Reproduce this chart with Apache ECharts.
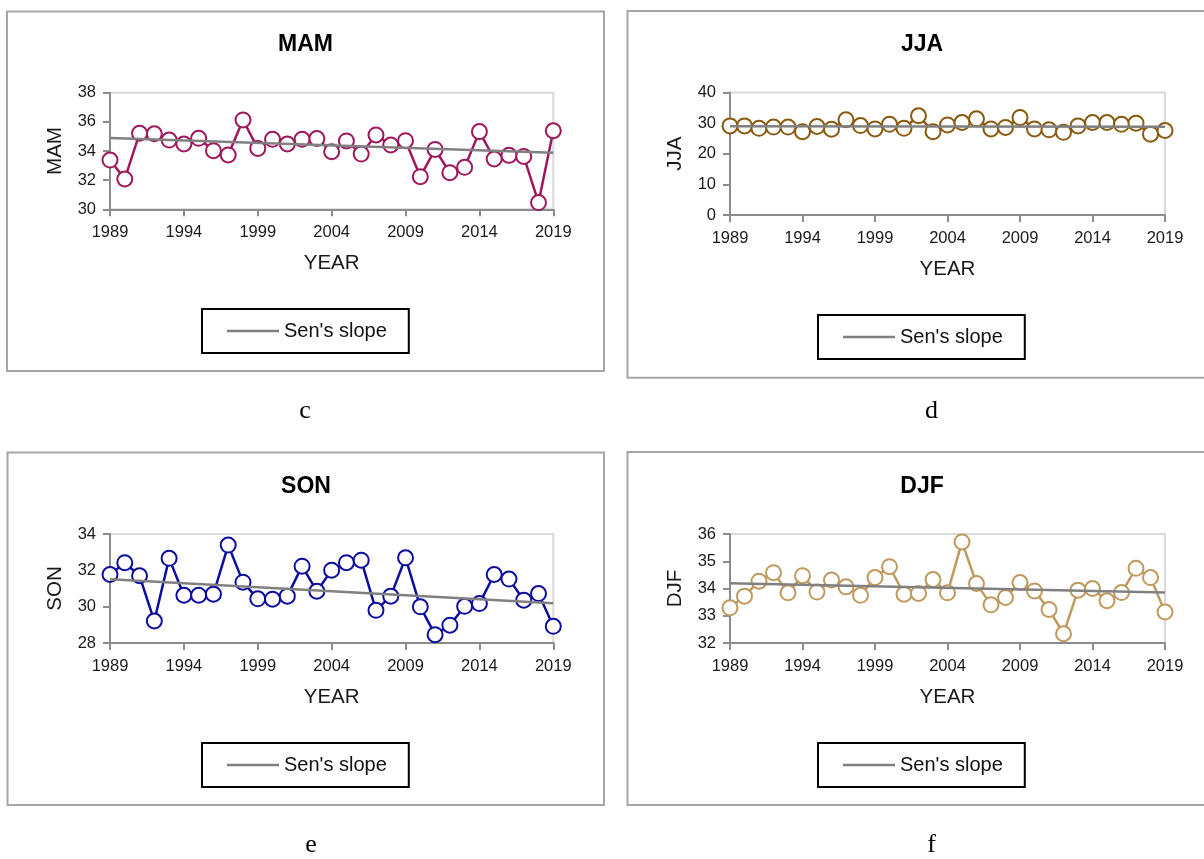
<!DOCTYPE html>
<html>
<head>
<meta charset="utf-8">
<script src="https://cdn.jsdelivr.net/npm/echarts@6/dist/echarts.min.js"></script>
<style>
html,body{margin:0;padding:0;background:#fff;}
#chart{width:1204px;height:859px;}
</style>
</head>
<body>
<div id="chart"></div>
<script>
const years = [1989,1990,1991,1992,1993,1994,1995,1996,1997,1998,1999,2000,2001,2002,2003,2004,2005,2006,2007,2008,2009,2010,2011,2012,2013,2014,2015,2016,2017,2018,2019];
const mam = [33.38,32.08,35.21,35.18,34.75,34.48,34.87,34.02,33.73,36.13,34.18,34.8,34.48,34.8,34.85,33.95,34.69,33.79,35.1,34.41,34.71,32.24,34.11,32.51,32.88,35.33,33.45,33.7,33.63,30.46,35.39];
const jja = [29.1,29.1,28.3,28.7,28.7,27.2,28.9,28.0,31.1,29.2,28.1,29.6,28.3,32.4,27.2,29.4,30.2,31.4,28.1,28.6,31.8,28.1,27.8,27.0,29.1,30.2,30.2,29.6,30.0,26.4,27.6];
const son = [31.77,32.42,31.7,29.21,32.66,30.63,30.63,30.69,33.39,31.35,30.43,30.41,30.58,32.23,30.85,32.01,32.42,32.56,29.8,30.58,32.69,29.99,28.46,28.98,30.02,30.17,31.77,31.52,30.36,30.72,28.92];
const djf = [33.29,33.72,34.27,34.58,33.84,34.47,33.87,34.31,34.06,33.75,34.4,34.8,33.79,33.82,34.33,33.84,35.71,34.18,33.4,33.67,34.22,33.91,33.23,32.34,33.94,34.0,33.55,33.85,34.74,34.4,33.14];
const senMAM = [34.9, 33.88];
const senJJA = [29.0, 28.8];
const senSON = [31.51, 30.19];
const senDJF = [34.19, 33.85];
const panelNames = ['MAM','JJA','SON','DJF'];
const panelLetters = ['c','d','e','f'];
const yMin = [30, 0, 28, 32];
const yMax = [38, 40, 34, 36];
const yStep = [2, 10, 2, 1];
const legendLabel = "Sen's slope";
const xName = 'YEAR';

const seriesValues = [mam, jja, son, djf];
const senValues = [senMAM, senJJA, senSON, senDJF];
const colors = ['#A0175C', '#8A5A10', '#0D0D9E', '#BE9A5E'];
const grids = [
  {left:110, top:92.7, width:443.3, height:116.6},
  {left:730, top:92.5, width:435, height:122.5},
  {left:110, top:534, width:443.3, height:109},
  {left:730, top:534, width:435, height:109}
];
const titlePos = [[305.5,45],[922,45],[306,487],[922,487]];
const letterPos = [[305,411],[931.5,411],[311,845],[931.5,845]];
const legendPos = [[202,309],[818,315],[202,743],[818,743]];
const boxes = [[7,11.5,597,359.5],[627.5,11,600,366.7],[7.5,452.5,596.5,352.5],[627.5,452,600,353]];

const cats = years.map(String);
const font = 'Liberation Sans, Arial, sans-serif';

const option = {
  animation:false,
  backgroundColor:'#ffffff',
  grid: grids.map(g => Object.assign({show:true, borderColor:'#D9D9D9', borderWidth:2, backgroundColor:'transparent'}, g)),
  xAxis: grids.map((g,i) => ({
    gridIndex:i, type:'category', data:cats, boundaryGap:false,
    name:xName, nameLocation:'middle', nameGap:44,
    nameTextStyle:{fontFamily:font, fontSize:20.5, color:'#1a1a1a'},
    axisLine:{lineStyle:{color:'#8C8C8C', width:2}},
    axisTick:{interval:4, length:7, lineStyle:{color:'#8C8C8C', width:2}},
    axisLabel:{interval:4, margin:15, fontFamily:font, fontSize:16.5, color:'#1a1a1a'},
    splitLine:{show:false}
  })),
  yAxis: grids.map((g,i) => ({
    gridIndex:i, type:'value', min:yMin[i], max:yMax[i], interval:yStep[i],
    name:panelNames[i], nameLocation:'middle', nameGap:44, nameRotate:90,
    nameTextStyle:{fontFamily:font, fontSize:20.5, color:'#1a1a1a'},
    axisLine:{show:true, lineStyle:{color:'#8C8C8C', width:2}},
    axisTick:{show:true, length:7, lineStyle:{color:'#8C8C8C', width:2}},
    axisLabel:{margin:14, fontFamily:font, fontSize:16.5, color:'#1a1a1a'},
    splitLine:{show:false}
  })),
  legend: legendPos.map((p,i) => ({
    left:p[0], top:p[1], orient:'horizontal',
    data:[legendLabel],
    icon:'rect', itemWidth:52, itemHeight:2.5, itemGap:5,
    padding:[12,22,12,25],
    borderColor:'#000', borderWidth:2, backgroundColor:'#fff',
    itemStyle:{color:'#808080'},
    textStyle:{fontFamily:font, fontSize:20, color:'#111'},
    selectedMode:false
  })),
  series: [],
  graphic: []
};

seriesValues.forEach((vals,i) => {
  option.series.push({
    name:panelNames[i], type:'line', xAxisIndex:i, yAxisIndex:i,
    data:vals, symbol:'circle', symbolSize:15, showSymbol:true, showAllSymbol:true,
    lineStyle:{color:colors[i], width:2.5},
    itemStyle:{color:'#ffffff', borderColor:colors[i], borderWidth:2},
    z:2
  });
  option.series.push({
    name:legendLabel, type:'line', xAxisIndex:i, yAxisIndex:i,
    data:[[cats[0], senValues[i][0]],[cats[cats.length-1], senValues[i][1]]],
    symbol:'none', lineStyle:{color:'#808080', width:2.5},
    itemStyle:{color:'#808080'},
    z:3
  });
});

boxes.forEach(b => {
  option.graphic.push({type:'rect', shape:{x:b[0], y:b[1], width:b[2], height:b[3]},
    style:{fill:'none', stroke:'#A6A6A6', lineWidth:2}, z:-10, silent:true});
});
titlePos.forEach((p,i) => {
  option.graphic.push({type:'text', x:p[0], y:p[1], silent:true,
    style:{text:panelNames[i], textAlign:'center', textVerticalAlign:'middle',
      font:'bold 23px ' + font, fill:'#000'}});
});
letterPos.forEach((p,i) => {
  option.graphic.push({type:'text', x:p[0], y:p[1], silent:true,
    style:{text:panelLetters[i], textAlign:'center', textVerticalAlign:'middle',
      font:'26px Liberation Serif, Times New Roman, serif', fill:'#000'}});
});

const chart = echarts.init(document.getElementById('chart'), null, {renderer:'canvas'});
chart.setOption(option);
</script>
</body>
</html>
